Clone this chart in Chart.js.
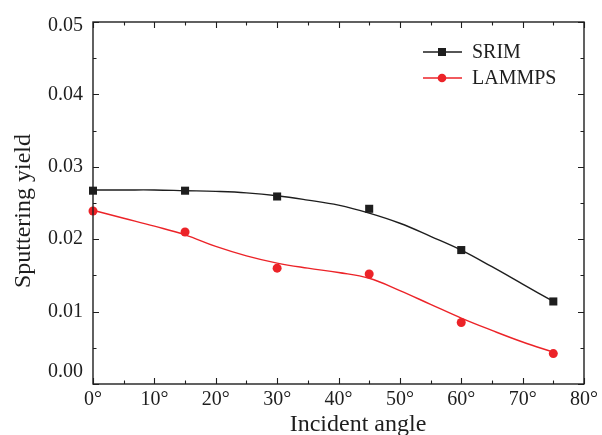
<!DOCTYPE html>
<html>
<head>
<meta charset="utf-8">
<script src="https://cdn.jsdelivr.net/npm/chart.js@4/dist/chart.umd.min.js"></script>
<style>
  html, body { margin: 0; padding: 0; background: #fff; }
</style>
</head>
<body>
<canvas id="chart" width="602" height="435"></canvas>
<script>
// Measured points
const angles = [0, 15, 30, 45, 60, 75];
const srimYield = [0.0267, 0.0267, 0.0259, 0.0242, 0.0185, 0.0114];
const lammpsYield = [0.0239, 0.0210, 0.0160, 0.0152, 0.0085, 0.0042];

// Fitted curves, every 5 degrees
const fitAngles = [0, 5, 10, 15, 20, 25, 30, 35, 40, 45, 50, 55, 60, 65, 70, 75];
const srimFit = [0.0268, 0.0268, 0.0268, 0.0267, 0.0266, 0.0264, 0.0260, 0.0254, 0.0247, 0.0236, 0.0222, 0.0204, 0.0185, 0.0162, 0.0138, 0.0114];
const lammpsFit = [0.0240, 0.0229, 0.0218, 0.0206, 0.0190, 0.0177, 0.0167, 0.0160, 0.0154, 0.0146, 0.0129, 0.0110, 0.0091, 0.0074, 0.0058, 0.0044];

// Axis ticks
const xTicks = [0, 10, 20, 30, 40, 50, 60, 70, 80];
const yTicks = [0, 0.01, 0.02, 0.03, 0.04, 0.05];

const BLACK = '#1e1e1e';
const RED = '#ec2328';
const FONT = '"Liberation Serif", "Times New Roman", serif';

function toXY(xs, ys) {
    return xs.map((x, i) => ({ x: x, y: ys[i] }));
}

// Box with inward major and minor ticks on all four sides, plus edge tick labels
const framePlugin = {
    id: 'frame',
    afterDatasetsDraw(chart) {
        const { ctx, chartArea: a, scales: { x, y } } = chart;
        ctx.save();
        ctx.strokeStyle = BLACK;
        ctx.lineWidth = 1.4;
        ctx.strokeRect(a.left, a.top, a.right - a.left, a.bottom - a.top);

        ctx.lineWidth = 1.1;
        ctx.beginPath();
        for (let v = 0; v <= 80; v += 5) {
            const px = Math.round(x.getPixelForValue(v)) + 0.5;
            const len = v % 10 === 0 ? 6 : 3.5;
            ctx.moveTo(px, a.bottom); ctx.lineTo(px, a.bottom - len);
            ctx.moveTo(px, a.top); ctx.lineTo(px, a.top + len);
        }
        for (let i = 0; i <= 10; i++) {
            const v = i * 0.005;
            const py = Math.round(y.getPixelForValue(v)) + 0.5;
            const len = i % 2 === 0 ? 6 : 3.5;
            ctx.moveTo(a.left, py); ctx.lineTo(a.left + len, py);
            ctx.moveTo(a.right, py); ctx.lineTo(a.right - len, py);
        }
        ctx.stroke();

        // end labels of the y axis are nudged inward, like the original
        ctx.fillStyle = BLACK;
        ctx.font = '20px ' + FONT;
        ctx.textAlign = 'right';
        ctx.textBaseline = 'middle';
        ctx.fillText((0).toFixed(2), a.left - 10, y.getPixelForValue(0) - 12);
        ctx.fillText((0.05).toFixed(2), a.left - 10, y.getPixelForValue(0.05) + 4);

        // axis titles
        ctx.font = '24px ' + FONT;
        ctx.textAlign = 'center';
        ctx.textBaseline = 'alphabetic';
        ctx.fillText('Incident angle', 358, 431);
        ctx.translate(30, 211);
        ctx.rotate(-Math.PI / 2);
        ctx.fillText('Sputtering yield', 0, 0);
        ctx.restore();
    }
};

// Legend inside the plot, top right
const legendPlugin = {
    id: 'innerLegend',
    afterDraw(chart) {
        const { ctx } = chart;
        const items = [
            { label: 'SRIM', color: BLACK, shape: 'square' },
            { label: 'LAMMPS', color: RED, shape: 'circle' }
        ];
        ctx.save();
        items.forEach((it, i) => {
            const yy = 52 + i * 26;
            ctx.strokeStyle = it.color;
            ctx.lineWidth = 1.4;
            ctx.beginPath();
            ctx.moveTo(423, yy); ctx.lineTo(462, yy);
            ctx.stroke();
            ctx.fillStyle = it.color;
            if (it.shape === 'square') {
                ctx.fillRect(438, yy - 4, 8, 8);
            } else {
                ctx.beginPath();
                ctx.arc(442, yy, 4.3, 0, Math.PI * 2);
                ctx.fill();
            }
            ctx.fillStyle = BLACK;
            ctx.font = '20px ' + FONT;
            ctx.textAlign = 'left';
            ctx.textBaseline = 'middle';
            ctx.fillText(it.label, 472, yy + 1);
        });
        ctx.restore();
    }
};

new Chart(document.getElementById('chart'), {
    type: 'scatter',
    data: {
        datasets: [
            {
                label: 'SRIM fit',
                data: toXY(fitAngles, srimFit),
                showLine: true,
                borderColor: BLACK,
                borderWidth: 1.4,
                pointRadius: 0,
                tension: 0.4,
                clip: false
            },
            {
                label: 'LAMMPS fit',
                data: toXY(fitAngles, lammpsFit),
                showLine: true,
                borderColor: RED,
                borderWidth: 1.4,
                pointRadius: 0,
                tension: 0.4,
                clip: false
            },
            {
                label: 'SRIM',
                data: toXY(angles, srimYield),
                pointStyle: 'rect',
                pointRadius: 5.7,
                backgroundColor: BLACK,
                borderColor: BLACK,
                borderWidth: 0,
                clip: false
            },
            {
                label: 'LAMMPS',
                data: toXY(angles, lammpsYield),
                pointStyle: 'circle',
                pointRadius: 4.5,
                backgroundColor: RED,
                borderColor: RED,
                borderWidth: 0,
                clip: false
            }
        ]
    },
    options: {
        responsive: false,
        animation: false,
        layout: { padding: { top: 19, right: 18, left: 0, bottom: 0 } },
        plugins: {
            legend: { display: false },
            tooltip: { enabled: false }
        },
        scales: {
            x: {
                type: 'linear',
                min: 0,
                max: 80,
                afterBuildTicks: (s) => { s.ticks = xTicks.map(v => ({ value: v })); },
                afterFit: (s) => { s.height = 51; },
                ticks: {
                    callback: (v) => v + '°',
                    font: { family: FONT, size: 20 },
                    color: BLACK,
                    padding: 4,
                    maxRotation: 0
                },
                grid: { display: false, drawTicks: false },
                border: { display: false }
            },
            y: {
                min: 0,
                max: 0.05,
                afterBuildTicks: (s) => { s.ticks = yTicks.map(v => ({ value: v })); },
                afterFit: (s) => { s.width = 93; },
                ticks: {
                    callback: (v) => (v === 0 || v === 0.05) ? '' : v.toFixed(2),
                    font: { family: FONT, size: 20 },
                    color: BLACK,
                    padding: 10
                },
                grid: { display: false, drawTicks: false },
                border: { display: false }
            }
        }
    },
    plugins: [framePlugin, legendPlugin]
});
</script>
</body>
</html>
